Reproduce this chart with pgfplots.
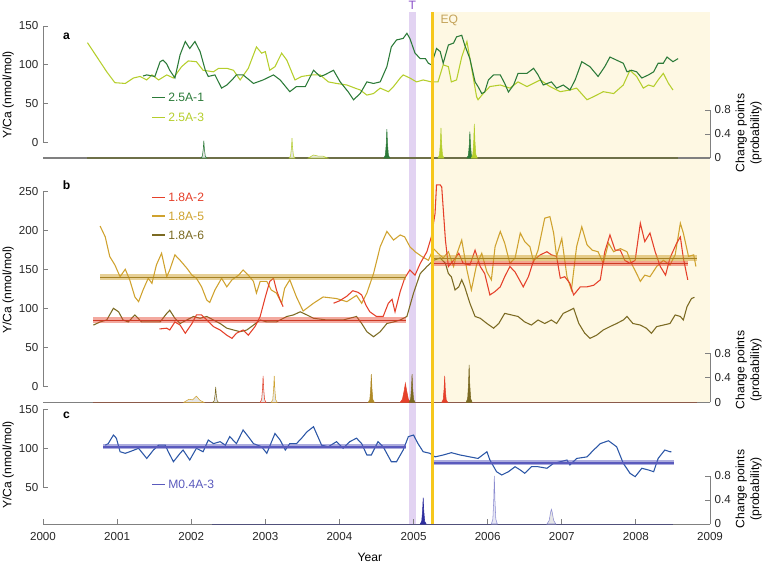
\documentclass[border=0pt]{standalone}
\usepackage{pgfplots}
\pgfplotsset{compat=1.18}
\usepackage{fontspec}
\setmainfont{Liberation Sans}
\definecolor{dgreen}{HTML}{2B7A38}
\definecolor{ygreen}{HTML}{B5CE2C}
\definecolor{cred}{HTML}{E5402A}
\definecolor{cgold}{HTML}{CFA22E}
\definecolor{colive}{HTML}{7B6A22}
\definecolor{cblue}{HTML}{2B56A6}
\definecolor{cband}{HTML}{5A5ABD}
\definecolor{cnavy}{HTML}{2E2E9E}
\definecolor{clav}{HTML}{8C8CD0}
\definecolor{tband}{HTML}{E2D3F2}
\definecolor{tlabel}{HTML}{8A50C8}
\definecolor{eqline}{HTML}{F6C71C}
\definecolor{eqlabel}{HTML}{C4A35A}
\definecolor{axgray}{HTML}{808080}
\definecolor{spkfill}{HTML}{E6E6E6}
\definecolor{yelfill}{HTML}{FEF8E3}
\definecolor{basea}{HTML}{6E7048}
\definecolor{baseb}{HTML}{8B5A4A}
\definecolor{basec}{HTML}{50507A}
\newcommand{\fs}{\fontsize{8.7pt}{10.4pt}\selectfont}
\newcommand{\fl}{\fontsize{9.1pt}{11pt}\selectfont}
\pgfplotsset{
  base/.style={scale only axis, width=500.25pt, xmin=2000, xmax=2009,
    axis line style={draw=none}, clip=false, no markers,
    tick style={axgray, line width=0.6pt}, major tick length=3.6pt, tick align=inside,
    tick label style={font=\fs, text=black!85},
    /pgf/number format/assume math mode=true,
    /pgf/number format/1000 sep={},
    xtick=\empty, scaled ticks=false},
  lefta/.style={base, ytick pos=left},
  righta/.style={base, ytick pos=right, yticklabel pos=right, ytick={0,0.4,0.8},
     yticklabels={0,0.4,0.8}},
  ln/.style={line width=0.8pt},
  spk/.style={line width=0.4pt},
}
\begin{document}
\begin{tikzpicture}[font=\fs]
\useasboundingbox (0pt,0pt) rectangle (573pt,-423pt);

% ---------- frame: shading, bands, labels ----------
\begin{axis}[at={(32.25pt,-423pt)}, anchor=south west, scale only axis, width=500.25pt, height=423pt,
  xmin=2000, xmax=2009, ymin=0, ymax=564, hide axis, clip=false]
\fill[yelfill] (axis cs:2005.25,161.7) rectangle (axis cs:2009,552);
\fill[tband] (axis cs:2004.94,40) rectangle (axis cs:2005.03,552);
\node[text=tlabel, font=\fl] at (axis cs:2004.985,559) {T};
\node[text=eqlabel, font=\fl, anchor=west] at (axis cs:2005.30,544) {EQ};
\node[rotate=90, font=\fl] at (axis cs:1999.53,469) {Y/Ca (nmol/mol)};
\node[rotate=90, font=\fl] at (axis cs:1999.53,274) {Y/Ca (nmol/mol)};
\node[rotate=90, font=\fl] at (axis cs:1999.53,99) {Y/Ca (nmol/mol)};
\node[rotate=90, font=\fl, align=center] at (axis cs:2009.52,431) {Change points\\(probability)};
\node[rotate=90, font=\fl, align=center] at (axis cs:2009.52,194) {Change points\\(probability)};
\node[rotate=90, font=\fl, align=center] at (axis cs:2009.52,75) {Change points\\(probability)};
\node[font=\fl] at (axis cs:2004.41,7) {Year};
\node[font=\bfseries\fl] at (axis cs:2000.317,527.5) {a};
\node[font=\bfseries\fl] at (axis cs:2000.317,379) {b};
\node[font=\bfseries\fl] at (axis cs:2000.317,149) {c};
% legends
\draw[dgreen, line width=0.9pt] (axis cs:2001.471,466.3) -- (axis cs:2001.646,466.3);
\node[text=dgreen, anchor=west, inner sep=0pt, font=\fl] at (axis cs:2001.687,466.3) {2.5A-1};
\draw[ygreen, line width=0.9pt] (axis cs:2001.471,446.7) -- (axis cs:2001.646,446.7);
\node[text=ygreen, anchor=west, inner sep=0pt, font=\fl] at (axis cs:2001.687,446.7) {2.5A-3};
\draw[cred, line width=0.9pt] (axis cs:2001.471,366.3) -- (axis cs:2001.646,366.3);
\node[text=cred, anchor=west, inner sep=0pt, font=\fl] at (axis cs:2001.687,366.3) {1.8A-2};
\draw[cgold, line width=0.9pt] (axis cs:2001.471,348) -- (axis cs:2001.646,348);
\node[text=cgold, anchor=west, inner sep=0pt, font=\fl] at (axis cs:2001.687,348) {1.8A-5};
\draw[colive, line width=0.9pt] (axis cs:2001.471,329) -- (axis cs:2001.646,329);
\node[text=colive, anchor=west, inner sep=0pt, font=\fl] at (axis cs:2001.687,329) {1.8A-6};
\draw[cband, line width=0.9pt] (axis cs:2001.471,79.7) -- (axis cs:2001.646,79.7);
\node[text=cband, anchor=west, inner sep=0pt, font=\fl] at (axis cs:2001.687,79.7) {M0.4A-3};
\end{axis}

% ---------- panel a ----------
\begin{axis}[lefta, at={(32.25pt,-118.5pt)}, anchor=south west, height=109.5pt, ymin=-20, ymax=168, ytick={0,50,100,150}]
\draw[axgray, line width=0.6pt] (axis cs:2000,0) -- (axis cs:2000,150);
\addplot[ygreen, ln] coordinates {(2000.60,128.5)(2000.77,104)(2000.86,91)(2000.97,77)(2001.11,76)(2001.22,83)(2001.31,85)(2001.40,80.5)(2001.47,87)(2001.56,80.5)(2001.67,87)(2001.76,83)(2001.87,97.6)(2001.96,105)(2002.07,104)(2002.16,93)(2002.30,91)(2002.37,95.5)(2002.48,95.5)(2002.57,93)(2002.66,80.5)(2002.77,95.5)(2002.88,123)(2002.95,115)(2003.00,117)(2003.06,93)(2003.13,97.6)(2003.22,115)(2003.29,106)(2003.40,80.5)(2003.49,85)(2003.63,87)(2003.74,87)(2003.85,78)(2003.96,76)(2004.10,74)(2004.21,70)(2004.28,67.6)(2004.37,61)(2004.46,63)(2004.55,70)(2004.66,65.4)(2004.73,72)(2004.82,83)(2004.86,87)(2004.95,83)(2005.04,78)(2005.13,80.5)(2005.24,78)(2005.33,78)(2005.40,100)(2005.47,97.6)(2005.51,78)(2005.58,80.5)(2005.65,110)(2005.72,130)(2005.78,97.6)(2005.85,59)(2005.87,55)(2005.94,63)(2006.03,72)(2006.17,74)(2006.30,70)(2006.41,78)(2006.53,72)(2006.71,80.5)(2006.84,72)(2006.98,65.4)(2007.11,67.6)(2007.20,70)(2007.34,55)(2007.43,59)(2007.56,65.4)(2007.70,63)(2007.83,74)(2007.92,93)(2008.01,85)(2008.10,70)(2008.17,74)(2008.24,72)(2008.30,80.5)(2008.37,89)(2008.44,76)(2008.50,67.6)};
\addplot[dgreen, ln] coordinates {(2001.35,85.6)(2001.40,87)(2001.51,85)(2001.58,104)(2001.62,106)(2001.67,101)(2001.71,93)(2001.78,83)(2001.85,113)(2001.92,130)(2001.98,121)(2002.05,130)(2002.12,117)(2002.19,93)(2002.23,85)(2002.32,87)(2002.41,70)(2002.48,74)(2002.55,80.5)(2002.61,87)(2002.70,87)(2002.84,76)(2002.97,80.5)(2003.11,87)(2003.20,80.5)(2003.33,65.4)(2003.42,72)(2003.54,72)(2003.65,93)(2003.74,85)(2003.80,87)(2003.92,93)(2004.01,78)(2004.12,65)(2004.19,55)(2004.28,63)(2004.37,78)(2004.46,76)(2004.55,78)(2004.64,97.6)(2004.70,123)(2004.77,132)(2004.86,134)(2004.91,140.6)(2004.95,134)(2005.02,115)(2005.09,108)(2005.16,108)(2005.20,102)(2005.24,100)(2005.31,121)(2005.36,117)(2005.40,102)(2005.47,125.5)(2005.54,128)(2005.58,136)(2005.65,138)(2005.69,125.5)(2005.76,108)(2005.83,78)(2005.87,72)(2005.92,63)(2005.96,65)(2006.01,80.5)(2006.08,87)(2006.17,87)(2006.23,76)(2006.28,65)(2006.35,74)(2006.41,89)(2006.53,89)(2006.62,95.5)(2006.68,87)(2006.75,74)(2006.86,78)(2006.93,70)(2007.02,74)(2007.11,67.6)(2007.18,80.5)(2007.27,104)(2007.38,97.6)(2007.49,85)(2007.58,97.6)(2007.65,110)(2007.74,106)(2007.83,102)(2007.88,91)(2007.94,93)(2008.01,91)(2008.08,83)(2008.17,87)(2008.24,91)(2008.30,102)(2008.37,102)(2008.42,110)(2008.50,104)(2008.57,108)};
\end{axis}
\begin{axis}[righta, at={(32.25pt,-118.5pt)}, anchor=south west, height=109.5pt, ymin=0, ymax=2.4333]
\draw[axgray, line width=0.6pt] (axis cs:2009,0) -- (axis cs:2009,0.8);
\draw[axgray, line width=0.9pt] (axis cs:2000,0) -- (axis cs:2009,0);
\draw[basea, line width=0.9pt] (axis cs:2000.6,0) -- (axis cs:2008.57,0);
\addplot[draw=dgreen, fill=spkfill, spk] coordinates {(2002.13,0)(2002.15,0.03)(2002.162,0.145)(2002.17,0.29)(2002.178,0.145)(2002.19,0.03)(2002.21,0)} \closedcycle;
\addplot[draw=ygreen, fill=spkfill, spk] coordinates {(2003.32,0)(2003.34,0.033)(2003.352,0.165)(2003.36,0.33)(2003.368,0.165)(2003.38,0.033)(2003.40,0)} \closedcycle;
\addplot[draw=ygreen, fill=spkfill, spk] coordinates {(2003.58,0)(2003.65,0.05)(2003.72,0.03)(2003.78,0.03)(2003.84,0)} \closedcycle;
\addplot[draw=dgreen, fill=dgreen, spk] coordinates {(2004.60,0)(2004.62,0.048)(2004.632,0.24)(2004.64,0.48)(2004.648,0.24)(2004.66,0.048)(2004.68,0)} \closedcycle;
\addplot[draw=ygreen, fill=ygreen, spk] coordinates {(2005.33,0)(2005.35,0.05)(2005.362,0.25)(2005.37,0.5)(2005.378,0.25)(2005.39,0.05)(2005.41,0)} \closedcycle;
\addplot[draw=dgreen, fill=dgreen, spk] coordinates {(2005.72,0)(2005.74,0.044)(2005.752,0.22)(2005.76,0.44)(2005.768,0.22)(2005.78,0.044)(2005.80,0)} \closedcycle;
\addplot[draw=ygreen, fill=ygreen, spk] coordinates {(2005.78,0)(2005.80,0.057)(2005.812,0.285)(2005.82,0.57)(2005.828,0.285)(2005.84,0.057)(2005.86,0)} \closedcycle;
\end{axis}

% ---------- panel b ----------
\begin{axis}[lefta, at={(32.25pt,-301.725pt)}, anchor=south west, height=178pt, ymin=-20, ymax=284.2, ytick={0,50,100,150,200,250}]
\draw[axgray, line width=0.6pt] (axis cs:2000,0) -- (axis cs:2000,250);
\addplot[colive, ln] coordinates {(2000.68,79)(2000.77,83)(2000.86,85.5)(2000.95,100.5)(2001.02,96)(2001.08,85.5)(2001.15,83)(2001.24,92)(2001.33,83)(2001.47,83)(2001.58,83)(2001.67,94)(2001.71,98)(2001.78,87.7)(2001.85,81)(2001.94,85.5)(2002.03,90)(2002.12,87.7)(2002.21,90)(2002.30,85.5)(2002.39,81)(2002.48,75)(2002.57,72.7)(2002.66,70.5)(2002.75,72.7)(2002.84,79)(2002.93,85.5)(2003.02,83)(2003.15,83)(2003.29,90)(2003.38,92)(2003.47,96)(2003.56,92)(2003.65,87.7)(2003.83,85.5)(2004.05,85.5)(2004.23,90)(2004.30,81)(2004.37,70.5)(2004.46,64)(2004.55,70.5)(2004.64,81)(2004.73,83)(2004.82,85.5)(2004.91,90)(2005.00,120)(2005.09,145)(2005.18,154)(2005.27,162)(2005.36,165)(2005.43,158)(2005.47,145)(2005.51,141)(2005.56,124)(2005.61,128)(2005.65,137)(2005.69,128)(2005.76,107)(2005.83,90)(2005.90,87.7)(2005.99,81)(2006.08,75)(2006.15,81)(2006.23,94)(2006.32,92)(2006.41,90)(2006.50,83)(2006.59,79)(2006.68,85.5)(2006.77,81)(2006.86,85.5)(2006.93,81)(2007.02,94)(2007.11,98)(2007.16,100.5)(2007.23,81)(2007.31,68.5)(2007.38,62)(2007.47,66)(2007.56,72.7)(2007.65,77)(2007.74,81)(2007.83,85.5)(2007.88,90)(2007.96,81)(2008.06,79)(2008.14,75)(2008.21,68.5)(2008.28,77)(2008.37,79)(2008.46,81)(2008.53,92)(2008.60,90)(2008.64,85.5)(2008.69,102.6)(2008.75,113)(2008.79,114.6)};
\addplot[cgold, ln] coordinates {(2000.77,206)(2000.84,192)(2000.90,167)(2000.97,156)(2001.04,141)(2001.11,150.5)(2001.17,137)(2001.24,115)(2001.29,109)(2001.35,124)(2001.42,139)(2001.47,132.5)(2001.53,156)(2001.60,171)(2001.67,141)(2001.71,149.6)(2001.78,169)(2001.85,162)(2001.94,152)(2002.01,143)(2002.07,139)(2002.14,128)(2002.21,111)(2002.25,108)(2002.32,124)(2002.41,139)(2002.48,128)(2002.55,137)(2002.64,143)(2002.70,149.6)(2002.77,143)(2002.84,135)(2002.88,120)(2002.93,135)(2003.02,135)(2003.08,124)(2003.15,120)(2003.22,107)(2003.26,126)(2003.33,137)(2003.42,115)(2003.51,97)(2003.65,107)(2003.78,115)(2003.96,113)(2004.10,109)(2004.23,117)(2004.30,107)(2004.37,120)(2004.46,145)(2004.55,179.5)(2004.64,199)(2004.73,188)(2004.82,194.5)(2004.88,192)(2004.95,179.5)(2005.02,173)(2005.11,167)(2005.20,162)(2005.27,177)(2005.33,171)(2005.40,165)(2005.47,173)(2005.54,154)(2005.58,169)(2005.65,188)(2005.72,149.6)(2005.78,124)(2005.85,156)(2005.92,171)(2005.99,147)(2006.05,137)(2006.10,179.5)(2006.17,199)(2006.23,184)(2006.30,158)(2006.37,165)(2006.44,197)(2006.50,186)(2006.57,179.5)(2006.62,160)(2006.68,175)(2006.77,216)(2006.84,218)(2006.89,197)(2006.93,167)(2007.00,190)(2007.07,141)(2007.13,124)(2007.20,179.5)(2007.27,205)(2007.34,182)(2007.41,175)(2007.49,173)(2007.56,158)(2007.63,184)(2007.70,173)(2007.79,177)(2007.88,173)(2007.94,158)(2008.01,145)(2008.06,135)(2008.12,143)(2008.19,141)(2008.28,154)(2008.37,162)(2008.46,156)(2008.53,169)(2008.60,209.5)(2008.64,197)(2008.71,167)(2008.78,169)(2008.81,154)};
\addplot[cred, ln] coordinates {(2001.57,74)(2001.67,75)(2001.71,72.7)(2001.78,83)(2001.85,79)(2001.92,68.5)(2002.01,81)(2002.07,92)(2002.14,92)(2002.21,85.5)(2002.30,77)(2002.39,72.7)(2002.48,66)(2002.55,62)(2002.61,68.5)(2002.70,72.7)(2002.77,66)(2002.86,77)(2002.93,90)(2003.00,115)(2003.06,135)(2003.11,139)(2003.15,124)(2003.20,111)(2003.24,102.6)};
\addplot[cred, ln] coordinates {(2003.92,107)(2004.00,110)(2004.10,116)(2004.18,123)(2004.25,121)(2004.30,117.6)(2004.36,104)(2004.41,96)(2004.50,90)(2004.59,90)(2004.66,107)(2004.71,112)(2004.75,96)(2004.82,122)(2004.88,139)(2004.95,149.6)(2005.02,143)(2005.09,158)(2005.18,173)(2005.24,192)(2005.29,222)(2005.31,258.6)(2005.36,258.6)(2005.38,256)(2005.43,188)(2005.47,154)(2005.54,162)(2005.61,171)(2005.67,158)(2005.76,156)(2005.83,175)(2005.90,154)(2005.96,145)(2006.03,117.6)(2006.10,122)(2006.17,128)(2006.23,141)(2006.30,154)(2006.37,147)(2006.44,135)(2006.48,128)(2006.55,141)(2006.62,162)(2006.71,169)(2006.80,173)(2006.86,169)(2006.93,167)(2006.98,139)(2007.04,141)(2007.11,132.5)(2007.16,117.6)(2007.25,128)(2007.34,128)(2007.43,130)(2007.52,137)(2007.58,173)(2007.65,194.5)(2007.72,175)(2007.79,175)(2007.85,162)(2007.92,158)(2007.99,162)(2008.06,209.5)(2008.12,186)(2008.19,197)(2008.26,173)(2008.33,154)(2008.40,143)(2008.46,165)(2008.55,184)(2008.60,192)(2008.64,165)(2008.70,137)};
% regression bands
\addplot[cgold, opacity=0.5, line width=4.5pt] coordinates {(2000.77,140)(2004.90,140)};
\addplot[cgold!80!black, line width=0.6pt] coordinates {(2000.77,140)(2004.90,140)};
\addplot[cred, opacity=0.45, line width=4pt] coordinates {(2000.68,85.5)(2004.90,85.5)};
\addplot[cred!90!black, line width=0.6pt] coordinates {(2000.68,85.5)(2004.90,85.5)};
\addplot[cgold, opacity=0.5, line width=4.5pt] coordinates {(2005.25,164.6)(2008.82,164.6)};
\addplot[cgold!80!black, line width=0.6pt] coordinates {(2005.25,164.6)(2008.82,164.6)};
\addplot[cred, opacity=0.45, line width=4pt] coordinates {(2005.25,158)(2008.70,158)};
\addplot[cred!90!black, line width=0.6pt] coordinates {(2005.25,158)(2008.70,158)};
\end{axis}
\begin{axis}[righta, at={(32.25pt,-301.725pt)}, anchor=south west, height=178pt, ymin=0, ymax=3.874]
\draw[axgray, line width=0.6pt] (axis cs:2009,0) -- (axis cs:2009,0.8);
\draw[axgray, line width=0.9pt] (axis cs:2000,0) -- (axis cs:2009,0);
\draw[baseb, line width=0.9pt] (axis cs:2000.68,0) -- (axis cs:2008.82,0);
\addplot[draw=cgold, fill=spkfill, spk] coordinates {(2001.90,0)(2001.97,0.05)(2002.02,0.04)(2002.07,0.10)(2002.12,0.03)(2002.17,0)} \closedcycle;
\addplot[draw=colive, fill=spkfill, spk] coordinates {(2002.29,0)(2002.31,0.025)(2002.322,0.125)(2002.33,0.25)(2002.338,0.125)(2002.35,0.025)(2002.37,0)} \closedcycle;
\addplot[draw=cred, fill=spkfill, spk] coordinates {(2002.93,0)(2002.95,0.043)(2002.962,0.215)(2002.97,0.43)(2002.978,0.215)(2002.99,0.043)(2003.01,0)} \closedcycle;
\addplot[draw=cgold, fill=spkfill, spk] coordinates {(2003.08,0)(2003.10,0.043)(2003.112,0.215)(2003.12,0.43)(2003.128,0.215)(2003.14,0.043)(2003.16,0)} \closedcycle;
\addplot[draw=cgold!85!black, fill=cgold!85!black, spk] coordinates {(2004.39,0)(2004.41,0.046)(2004.422,0.23)(2004.43,0.46)(2004.438,0.23)(2004.45,0.046)(2004.47,0)} \closedcycle;
\addplot[draw=cred, fill=cred, spk] coordinates {(2004.82,0)(2004.85,0.05)(2004.875,0.2)(2004.89,0.31)(2004.905,0.2)(2004.93,0.05)(2004.96,0)} \closedcycle;
\addplot[draw=colive, fill=colive, spk] coordinates {(2004.94,0)(2004.96,0.046)(2004.972,0.23)(2004.98,0.46)(2004.988,0.23)(2005.00,0.046)(2005.02,0)} \closedcycle;
\addplot[draw=cred, fill=cred, spk] coordinates {(2005.38,0)(2005.40,0.043)(2005.412,0.215)(2005.42,0.43)(2005.428,0.215)(2005.44,0.043)(2005.46,0)} \closedcycle;
\addplot[draw=colive, fill=colive, spk] coordinates {(2005.71,0)(2005.73,0.061)(2005.742,0.305)(2005.75,0.61)(2005.758,0.305)(2005.77,0.061)(2005.79,0)} \closedcycle;
\end{axis}

% ---------- panel c ----------
\begin{axis}[lefta, at={(32.25pt,-393pt)}, anchor=south west, height=90pt, ymin=2.95, ymax=156.8, ytick={50,100,150},
  xtick={2000,2001,...,2009}, xtick pos=bottom, xticklabel style={yshift=-3pt}]
\draw[axgray, line width=0.6pt] (axis cs:2000,50) -- (axis cs:2000,150);
\draw[axgray, line width=0.6pt] (axis cs:2000,2.95) -- (axis cs:2009,2.95);
\draw[basec, line width=0.6pt] (axis cs:2002.28,2.95) -- (axis cs:2008.5,2.95);
\addplot[cblue, ln] coordinates {(2000.84,104)(2000.88,106)(2000.95,117)(2000.99,113)(2001.04,95.6)(2001.11,93.6)(2001.17,95.6)(2001.29,100)(2001.40,87)(2001.49,97.8)(2001.56,104)(2001.65,104)(2001.69,95.6)(2001.76,82.8)(2001.85,93.6)(2001.89,97.8)(2001.98,85)(2002.07,100)(2002.16,95.6)(2002.23,110.6)(2002.30,106)(2002.39,108.5)(2002.46,104)(2002.52,115)(2002.61,106)(2002.70,123.5)(2002.77,115)(2002.84,106)(2002.95,102)(2003.02,93.6)(2003.13,119)(2003.20,110.6)(2003.27,97.8)(2003.33,106)(2003.42,106)(2003.49,113)(2003.56,121)(2003.65,127.7)(2003.69,119)(2003.76,104)(2003.85,102)(2003.96,108.5)(2004.05,100)(2004.14,108.5)(2004.23,113)(2004.30,106)(2004.37,91.4)(2004.43,91.4)(2004.52,108.5)(2004.59,102)(2004.70,82.8)(2004.77,82.8)(2004.86,97.8)(2004.93,115)(2005.00,117)(2005.06,106)(2005.13,95.6)(2005.22,93.6)(2005.29,89)(2005.40,91.4)(2005.51,94.4)(2005.63,91.4)(2005.76,89)(2005.87,87)(2005.99,95.6)(2006.03,85)(2006.12,70)(2006.19,65.8)(2006.28,70)(2006.37,76.4)(2006.44,72.2)(2006.50,68)(2006.59,76.4)(2006.68,76.4)(2006.80,74.4)(2006.89,80.8)(2006.98,82.8)(2007.07,85)(2007.11,78.6)(2007.20,87)(2007.34,89)(2007.43,97.8)(2007.52,106)(2007.63,109.7)(2007.74,102)(2007.83,80.8)(2007.92,68)(2007.99,63.6)(2008.08,74.4)(2008.17,72.2)(2008.24,70)(2008.30,87)(2008.39,97.8)(2008.46,95.6)(2008.48,95.6)};
\addplot[cband, opacity=0.5, line width=3.6pt] coordinates {(2000.81,102)(2004.90,102)};
\addplot[cband, line width=1.2pt] coordinates {(2000.81,102)(2004.90,102)};
\addplot[cband, opacity=0.5, line width=3.6pt] coordinates {(2005.26,81.5)(2008.52,81.5)};
\addplot[cband, line width=1.2pt] coordinates {(2005.26,81.5)(2008.52,81.5)};
\end{axis}
\begin{axis}[righta, at={(32.25pt,-393pt)}, anchor=south west, height=90pt, ymin=0, ymax=2.0]
\draw[axgray, line width=0.6pt] (axis cs:2009,0) -- (axis cs:2009,0.8);
\addplot[draw=cnavy, fill=cnavy, spk] coordinates {(2005.09,0)(2005.11,0.044)(2005.122,0.22)(2005.13,0.44)(2005.138,0.22)(2005.15,0.044)(2005.17,0)} \closedcycle;
\addplot[draw=clav, fill=clav!20, spk] coordinates {(2006.05,0)(2006.07,0.08)(2006.082,0.4)(2006.09,0.8)(2006.098,0.4)(2006.11,0.08)(2006.13,0)} \closedcycle;
\addplot[draw=clav, fill=spkfill, spk] coordinates {(2006.80,0)(2006.83,0.06)(2006.85,0.2)(2006.86,0.245)(2006.87,0.2)(2006.89,0.06)(2006.92,0)} \closedcycle;
% EQ line on top
\draw[eqline, line width=2.2pt] (axis cs:2005.25,0) -- (axis cs:2005.25,8.533);
\end{axis}
\end{tikzpicture}
\end{document}
